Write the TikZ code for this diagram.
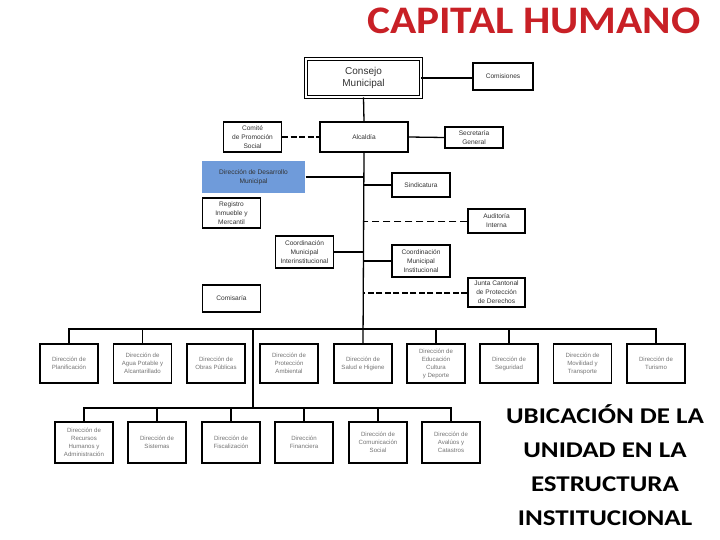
\documentclass[tikz,border=0pt]{standalone}
\usepackage{fontspec}
\setmainfont{Liberation Sans}
\newfontfamily\titlefont{Carlito}
\usetikzlibrary{positioning}
\definecolor{titlered}{RGB}{200,32,38}
\definecolor{deskblue}{RGB}{111,155,218}
\definecolor{boxtext}{RGB}{50,50,50}
\definecolor{rowtext}{RGB}{115,115,115}

\begin{document}
\begin{tikzpicture}[
            x=1pt, y=-1pt,
            line width=1.3pt,
            unit/.style={draw, line width=1.2pt, align=center, inner sep=1pt,
              minimum width=58pt, text=boxtext, font=\fontsize{6.6}{9}\selectfont},
            dept/.style={unit, minimum height=39pt, text=rowtext, font=\fontsize{6.1}{8}\selectfont},
            dept2/.style={dept, minimum height=41pt},
            dashlink/.style={dashed, dash pattern=on 7pt off 4pt, line width=0.9pt},
            thickdash/.style={dash pattern=on 6pt off 2.5pt, line width=2pt}
          ]
            \useasboundingbox (0,0) rectangle (720,540);
            \node[text=titlered, font=\titlefont\bfseries\fontsize{39}{39}\selectfont] (titulo) at (534,21)
              {\scalebox{1.11}[1]{CAPITAL HUMANO}};
            \node[font=\titlefont\bfseries\fontsize{22.5}{34}\selectfont, align=center] (ubicacion) at (605,465)
              {\scalebox{1.2}[1]{UBICACIÓN DE LA}\\\scalebox{1.2}[1]{UNIDAD EN LA}\\
               \scalebox{1.2}[1]{ESTRUCTURA}\\\scalebox{1.2}[1]{INSTITUCIONAL}};

            \node[unit, double, double distance=1.5pt, line width=0.8pt, minimum width=115pt, minimum height=38pt,
              font=\fontsize{10}{11.5}\selectfont] (consejo) at (363.5,78) {Consejo\\Municipal};
            \node[unit, minimum width=60pt, minimum height=27pt] (comisiones) at (503,76.5) {Comisiones};
            \node[unit, minimum width=88pt, minimum height=30pt] (alcaldia) at (364,137) {Alcaldía};
            \node[unit, minimum height=30pt] (comite) at (252.5,137) {Comité\\de Promoción\\Social};
            \node[unit, minimum height=21pt] (secretaria) at (474,137.5) {Secretaría\\General};
            \node[unit, draw=none, fill=deskblue, minimum width=103pt, minimum height=32pt] (desarrollo) at (253.5,177) {Dirección de Desarrollo\\Municipal};
            \node[unit, minimum height=24pt] (sindicatura) at (421,185) {Sindicatura};
            \node[unit, minimum height=30pt] (registro) at (231.5,213) {Registro\\Inmueble y\\Mercantil};
            \node[unit, minimum width=57pt, minimum height=24pt] (auditoria) at (496.5,221) {Auditoría\\Interna};
            \node[unit, minimum height=32pt] (coordinter) at (304.5,252) {Coordinación\\Municipal\\Interinstitucional};
            \node[unit, minimum height=32pt] (coordinst) at (421,261) {Coordinación\\Municipal\\Institucional};
            \node[unit, minimum width=57pt, minimum height=29pt] (junta) at (496.5,292.5) {Junta Cantonal\\de Protección\\de Derechos};
            \node[unit, minimum height=27pt] (comisaria) at (231.5,298.5) {Comisaría};

            \node[dept] (planif) at (69,363.5) {Dirección de\\Planificación};
            \node[dept] (agua) at (142.5,363.5) {Dirección de\\Agua Potable y\\Alcantarillado};
            \node[dept] (obras) at (216,363.5) {Dirección de\\Obras Públicas};
            \node[dept] (proteccion) at (289,363.5) {Dirección de\\Protección\\Ambiental};
            \node[dept] (salud) at (363,363.5) {Dirección de\\Salud e Higiene};
            \node[dept] (educacion) at (436,363.5) {Dirección de\\Educación\\Cultura\\y Deporte};
            \node[dept] (seguridad) at (509,363.5) {Dirección de\\Seguridad};
            \node[dept] (movilidad) at (582.5,363.5) {Dirección de\\Movilidad y\\Transporte};
            \node[dept] (turismo) at (656,363.5) {Dirección de\\Turismo};

            \node[dept2] (rrhh) at (84,442.5) {Dirección de\\Recursos\\Humanos y\\Administración};
            \node[dept2] (sistemas) at (157,442.5) {Dirección de\\Sistemas};
            \node[dept2] (fiscal) at (231,442.5) {Dirección de\\Fiscalización};
            \node[dept2] (financiera) at (304,442.5) {Dirección\\Financiera};
            \node[dept2] (comunic) at (378,442.5) {Dirección de\\Comunicación\\Social};
            \node[dept2] (avaluos) at (451,442.5) {Dirección de\\Avalúos y\\Catastros};

            \coordinate (bar1) at (363,329);
            \coordinate (spine) at (253,408);

            \draw (consejo.east) -- (comisiones.west |- consejo.east);
            \draw (consejo.south) -- (alcaldia.north);
            \draw[thickdash] (comite.east) -- (alcaldia.west);
            \draw (alcaldia.east) -- (secretaria.west);
            \draw (alcaldia.south) -- (salud.north);
            \draw (desarrollo.east) -- (desarrollo.east -| alcaldia.south);
            \draw (sindicatura.west) -- (sindicatura.west -| alcaldia.south);
            \draw[dashlink] (auditoria.west) -- (auditoria.west -| alcaldia.south);
            \draw (coordinter.east) -- (coordinter.east -| alcaldia.south);
            \draw (coordinst.west) -- (coordinst.west -| alcaldia.south);
            \draw[thickdash] (junta.west) -- (junta.west -| alcaldia.south);

            \draw (planif.north) |- (turismo.north |- bar1) -- (turismo.north);
            \foreach \n in {agua, educacion, seguridad}
              \draw (\n.north) -- (\n.north |- bar1);
            \draw (spine |- bar1) -- (spine);
            \draw (rrhh.north) |- (avaluos.north |- spine) -- (avaluos.north);
            \foreach \n in {sistemas, fiscal, financiera, comunic}
              \draw (\n.north) -- (\n.north |- spine);
          \end{tikzpicture}
\end{document}
